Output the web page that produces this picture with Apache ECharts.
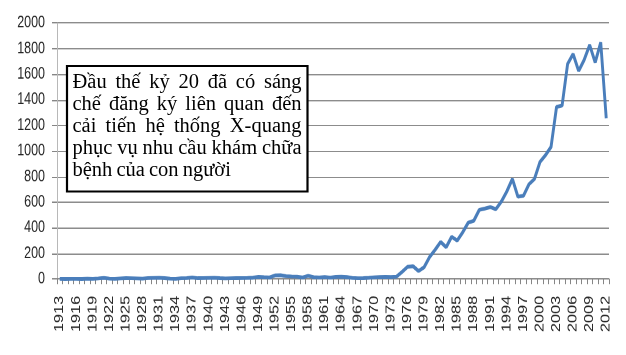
<!DOCTYPE html>
<html>
<head>
<meta charset="utf-8">
<script src="https://cdn.jsdelivr.net/npm/echarts@6/dist/echarts.min.js"></script>
<style>
  html, body { margin: 0; padding: 0; background: #fff; overflow: hidden; }
  /* The chart is laid out at a shorter height and stretched vertically,
     which gives the tall axis lettering of the original spreadsheet figure. */
  #chart {
    position: absolute; left: 0; top: 0;
    width: 626px; height: 273px;
    transform: scaleY(1.3); transform-origin: 0 0;
  }
  /* The text note sits on its own unstretched layer above the chart. */
  #note {
    position: absolute; left: 0; top: 0;
    width: 626px; height: 355px;
    pointer-events: none;
  }
</style>
</head>
<body>
<div id="chart"></div>
<div id="note"></div>
<script>
// ---- data -------------------------------------------------------------
const firstYear = 1913;
const lastYear = 2012;
const years = [];
for (let y = firstYear; y <= lastYear; y++) years.push(String(y));

// Patent filings per year, 1913–2012
const filings1913to1932 = [2, 1, 2, 2, 1, 3, 2, 4, 8, 3, 2, 4, 6, 5, 4, 3, 7, 8, 9, 6];
const filings1933to1952 = [3, 2, 5, 7, 12, 6, 7, 8, 9, 6, 4, 5, 6, 7, 8, 10, 17, 14, 12, 28];
const filings1953to1972 = [30, 22, 19, 18, 12, 25, 14, 12, 16, 10, 17, 18, 15, 8, 5, 6, 9, 13, 16, 17];
const filings1973to1992 = [16, 18, 55, 95, 100, 62, 92, 172, 228, 290, 248, 330, 300, 365, 440, 455, 540, 550, 562, 545];
const filings1993to2012 = [605, 685, 782, 643, 650, 740, 782, 915, 968, 1032, 1345, 1355, 1680, 1758, 1625, 1712, 1828, 1692, 1848, 1255];
const filings = [].concat(filings1913to1932, filings1933to1952, filings1953to1972, filings1973to1992, filings1993to2012);

const yMin = 0;
const yMax = 2000;
const yStep = 200;

const noteLines = [
  'Đầu thế kỷ 20 đã có sáng',
  'chế đăng ký liên quan đến',
  'cải tiến hệ thống X-quang',
  'phục vụ nhu cầu khám chữa',
  'bệnh của con người'
];

// ---- chart ------------------------------------------------------------
const chart = echarts.init(document.getElementById('chart'), null, { renderer: 'canvas', devicePixelRatio: 2 });

const axisFont = '"Liberation Sans", Arial, sans-serif';

chart.setOption({
  animation: false,
  backgroundColor: '#fff',
  grid: { left: 57, right: 17, top: 17.7, bottom: 58.4, containLabel: false },
  xAxis: {
    type: 'category',
    data: years,
    boundaryGap: true,
    axisLine: { show: true, lineStyle: { color: '#868686', width: 1 } },
    axisTick: { show: true, interval: 0, length: 4, lineStyle: { color: '#868686' } },
    axisLabel: {
      interval: 2, rotate: 90, margin: 13,
      fontSize: 12.5, fontFamily: axisFont, color: '#262626'
    },
    splitLine: { show: false }
  },
  yAxis: {
    type: 'value',
    min: yMin, max: yMax, interval: yStep,
    axisLine: { show: true, lineStyle: { color: '#b8b8b8', width: 1 } },
    axisTick: { show: true, length: 5, lineStyle: { color: '#868686' } },
    axisLabel: {
      margin: 12, fontSize: 12.5, fontFamily: axisFont, color: '#262626',
      formatter: function (v) { return String(v); }
    },
    splitLine: { show: true, lineStyle: { color: '#8c8c8c', width: 1 } }
  },
  series: [{
    type: 'line',
    data: filings,
    showSymbol: false,
    smooth: false,
    lineStyle: { color: '#4a7ebb', width: 2.9 },
    itemStyle: { color: '#4a7ebb' },
    z: 3
  }]
});

// ---- text note --------------------------------------------------------
const NOTE_FONT = '20.5px "Liberation Serif", "Times New Roman", serif';
const NOTE_BOX = { x: 67, y: 66, width: 240.5, height: 125.5 };
const NOTE_TEXT_LEFT = 72.5;
const NOTE_TEXT_RIGHT = 301.5;
const NOTE_FIRST_BASELINE = 89.5;
const NOTE_LINE_PITCH = 21.8;

// Words are placed one by one so that every line but the last is justified.
const measureCtx = document.createElement('canvas').getContext('2d');
measureCtx.font = NOTE_FONT;
const noteChildren = [{
  type: 'rect',
  shape: NOTE_BOX,
  style: { fill: '#fff', stroke: '#000', lineWidth: 2.2 }
}];
noteLines.forEach(function (line, i) {
  const words = line.split(' ');
  const widths = words.map(function (w) { return measureCtx.measureText(w).width; });
  const total = widths.reduce(function (a, b) { return a + b; }, 0);
  const isLast = i === noteLines.length - 1;
  const gap = isLast
    ? measureCtx.measureText(' ').width * 0.8
    : (NOTE_TEXT_RIGHT - NOTE_TEXT_LEFT - total) / (words.length - 1);
  const centerY = NOTE_FIRST_BASELINE + i * NOTE_LINE_PITCH - 6.5;
  let x = NOTE_TEXT_LEFT;
  words.forEach(function (w, k) {
    noteChildren.push({
      type: 'text',
      x: x,
      y: centerY,
      style: { text: w, font: NOTE_FONT, fill: '#000', align: 'left', verticalAlign: 'middle' }
    });
    x += widths[k] + gap;
  });
});

const note = echarts.init(document.getElementById('note'), null, { renderer: 'canvas' });
note.setOption({
  animation: false,
  graphic: [{ type: 'group', children: noteChildren }]
});
</script>
</body>
</html>
